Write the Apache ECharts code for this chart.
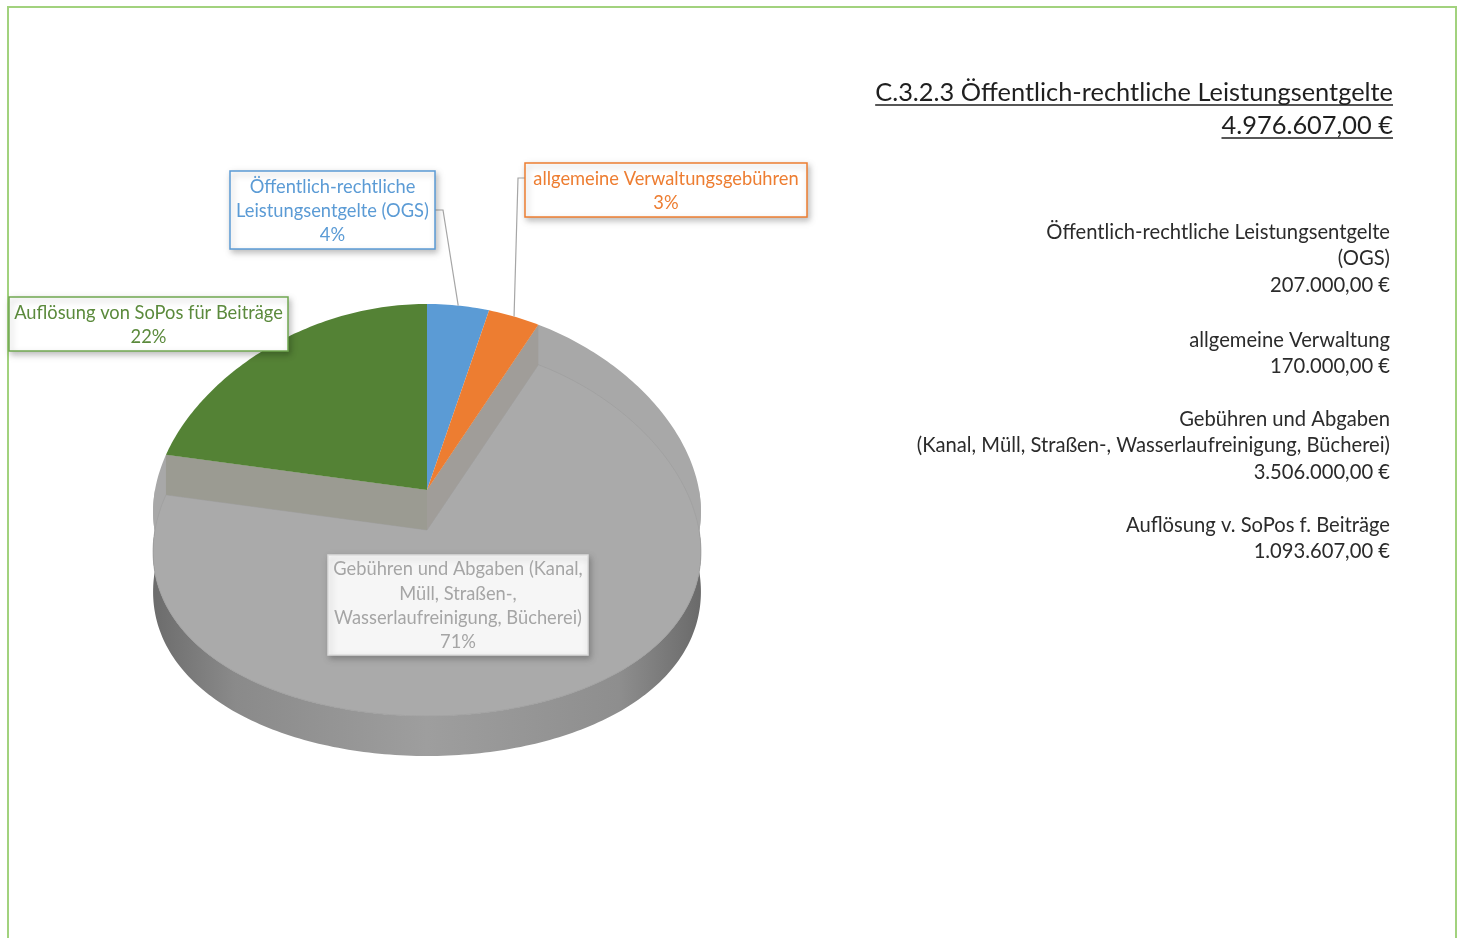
<!DOCTYPE html>
<html>
<head>
<meta charset="utf-8">
<script src="https://cdn.jsdelivr.net/npm/echarts@6/dist/echarts.min.js"></script>
<style>
  html, body { margin: 0; padding: 0; background: #fff; }
  #chart { width: 1461px; height: 938px; }
</style>
</head>
<body>
<div id="chart"></div>
<script>
// slices, clockwise from 12 o'clock
const categories = [
  'Öffentlich-rechtliche Leistungsentgelte (OGS)',
  'allgemeine Verwaltungsgebühren',
  'Gebühren und Abgaben (Kanal, Müll, Straßen-, Wasserlaufreinigung, Bücherei)',
  'Auflösung von SoPos für Beiträge'
]
const amounts = [207000, 170000, 3506000, 1093607]
const percentLabels = ['4%', '3%', '71%', '22%']
const labelLines = [
  ['Öffentlich-rechtliche', 'Leistungsentgelte (OGS)'],
  ['allgemeine Verwaltungsgebühren'],
  ['Gebühren und Abgaben (Kanal,', 'Müll, Straßen-,', 'Wasserlaufreinigung, Bücherei)'],
  ['Auflösung von SoPos für Beiträge']
]
const sideNames = [
  ['Öffentlich-rechtliche Leistungsentgelte', '(OGS)'],
  ['allgemeine Verwaltung'],
  ['Gebühren und Abgaben', '(Kanal, Müll, Straßen-, Wasserlaufreinigung, Bücherei)'],
  ['Auflösung v. SoPos f. Beiträge']
]
const titleText = 'C.3.2.3 Öffentlich-rechtliche Leistungsentgelte'

const colors = ['#5b9bd5', '#ed7d31', '#a5a5a5', '#548235']
const textColors = ['#5b9bd5', '#ed7d31', '#a5a5a5', '#5b8a3c']
const borderColors = ['#5b9bd5', '#ed7d31', '#dcdcdc', '#70a850']

// 3d pie layout
const CX = 427, CY = 490, RX = 272, RY = 186, DEPTH = 40, PERSP = 0.12
const LOWERED = 2
const labelBoxes = [
  { x: 230, y: 171, w: 205, h: 78, leader: [[435, 210], [443, 210]] },
  { x: 525, y: 163, w: 282, h: 54, leader: [[525, 178], [518, 178]] },
  { x: 328, y: 555, w: 260, h: 100 },
  { x: 9, y: 297, w: 279, h: 54 }
]
const FONT = 'Lato, "Noto Sans", sans-serif'

const total = amounts.reduce((a, b) => a + b, 0)
const startAngles = []
let acc = 0
for (const v of amounts) {
  startAngles.push(90 - acc / total * 360)
  acc += v
}

function pt(theta, dy) {
  const r = theta * Math.PI / 180
  return [CX + RX * Math.cos(r) * (1 - PERSP * Math.sin(r)), CY + dy - RY * Math.sin(r)]
}
function arc(a0, a1, dy) {
  const n = Math.max(2, Math.ceil(Math.abs(a1 - a0)))
  const pts = []
  for (let i = 0; i <= n; i++) pts.push(pt(a0 + (a1 - a0) * i / n, dy))
  return pts
}
function euro(v) {
  const s = Math.floor(v).toString().replace(/\B(?=(\d{3})+(?!\d))/g, '.')
  return s + ',00 €'
}
const measureCtx = document.createElement('canvas').getContext('2d')
function textWidth(text, font) {
  measureCtx.font = font
  return measureCtx.measureText(text).width
}

function renderItem(params, api) {
  const i = params.dataIndex
  const v = api.value(0)
  const a0 = startAngles[i]
  const a1 = a0 - v / total * 360
  const children = []
  if (i === LOWERED) {
    children.push({
      type: 'polygon', z2: 1,
      shape: { points: [[CX, CY]].concat(arc(a0, a1, 0)) },
      style: { fill: '#a8a8a8' }
    })
    // fill between upper and lowered rims
    children.push({
      type: 'polygon', z2: 1,
      shape: { points: arc(-180, 0, 0).concat(arc(-180, 0, DEPTH).reverse()) },
      style: { fill: '#a8a8a8' }
    })
    children.push({
      type: 'polygon', z2: 2,
      shape: { points: arc(-180, 0, DEPTH).concat(arc(-180, 0, 2 * DEPTH).reverse()) },
      style: {
        fill: new echarts.graphic.LinearGradient(0, 0, 1, 0, [
          { offset: 0, color: '#6c6c6c' },
          { offset: 0.15, color: '#8a8a8a' },
          { offset: 0.5, color: '#9e9e9e' },
          { offset: 0.85, color: '#8e8e8e' },
          { offset: 1, color: '#6a6a6a' }
        ])
      }
    })
    children.push({
      type: 'polygon', z2: 3,
      shape: { points: [[CX, CY + DEPTH]].concat(arc(a0, a1, DEPTH)) },
      style: { fill: '#aaaaaa', stroke: '#a0a0a0', lineWidth: 0.8 }
    })
  } else {
    const walls = []
    if (i - 1 === LOWERED) walls.push(a0)
    if (i + 1 === LOWERED) walls.push(a1)
    walls.forEach(w => {
      children.push({
        type: 'polygon', z2: 5,
        shape: { points: [[CX, CY], pt(w, 0), pt(w, DEPTH), [CX, CY + DEPTH]] },
        style: { fill: i === 3 ? '#9b9b92' : '#a09d99' }
      })
    })
    children.push({
      type: 'polygon', z2: 10,
      shape: { points: [[CX, CY]].concat(arc(a0, a1, 0)) },
      style: { fill: colors[i] }
    })
  }
  // data label
  const b = labelBoxes[i]
  if (b.leader) {
    children.push({
      type: 'polyline', z2: 15,
      shape: { points: b.leader.concat([pt((a0 + a1) / 2, 0)]) },
      style: { stroke: '#a6a6a6', lineWidth: 1.2, fill: null }
    })
  }
  children.push({
    type: 'rect', z2: 20,
    shape: { x: b.x, y: b.y, width: b.w, height: b.h },
    style: {
      fill: i === LOWERED ? 'rgba(255,255,255,0.93)' : '#fff',
      stroke: borderColors[i], lineWidth: 1.5,
      shadowBlur: 6, shadowColor: 'rgba(0,0,0,0.25)', shadowOffsetX: 2, shadowOffsetY: 3
    }
  })
  children.push({
    type: 'text', z2: 21,
    style: {
      text: labelLines[i].concat([percentLabels[i]]).join('\n'),
      x: b.x + b.w / 2, y: b.y + b.h / 2 + 1,
      align: 'center', verticalAlign: 'middle',
      font: '18.3px ' + FONT, lineHeight: 24.3,
      fill: textColors[i]
    }
  })
  return { type: 'group', children: children }
}

// side text block (right aligned)
const graphics = []
const titleFont = '25.4px ' + FONT
const totalText = euro(total)
graphics.push({
  type: 'rect', z: 0,
  shape: { x: 8, y: 7, width: 1448, height: 1000 },
  style: { fill: 'none', stroke: '#a2d27e', lineWidth: 2 }
})
graphics.push({
  type: 'text', z: 5,
  style: { text: titleText, x: 1393, y: 93, align: 'right', verticalAlign: 'middle', font: titleFont, fill: '#1f1f1f' }
})
graphics.push({
  type: 'line', z: 5,
  shape: { x1: 1393 - textWidth(titleText, titleFont), y1: 105, x2: 1393, y2: 105 },
  style: { stroke: '#1f1f1f', lineWidth: 1.3 }
})
graphics.push({
  type: 'text', z: 5,
  style: { text: totalText, x: 1393, y: 126, align: 'right', verticalAlign: 'middle', font: titleFont, fill: '#1f1f1f' }
})
graphics.push({
  type: 'line', z: 5,
  shape: { x1: 1393 - textWidth(totalText, titleFont), y1: 138, x2: 1393, y2: 138 },
  style: { stroke: '#1f1f1f', lineWidth: 1.3 }
})
const sideTops = [232, 340, 419, 525]
sideNames.forEach((lines, i) => {
  graphics.push({
    type: 'text', z: 5,
    style: {
      text: lines.concat([euro(amounts[i])]).join('\n'),
      x: 1390, y: sideTops[i] - 13.3, align: 'right', verticalAlign: 'top',
      font: '20.2px ' + FONT, lineHeight: 26.6, fill: '#2b2b2b'
    }
  })
})

const chart = echarts.init(document.getElementById('chart'))
chart.setOption({
  animation: false,
  backgroundColor: '#fff',
  graphic: graphics,
  series: [{
    type: 'custom',
    coordinateSystem: 'none',
    renderItem: renderItem,
    data: amounts.map((v, i) => ({ name: categories[i], value: [v] }))
  }]
})
</script>
</body>
</html>
